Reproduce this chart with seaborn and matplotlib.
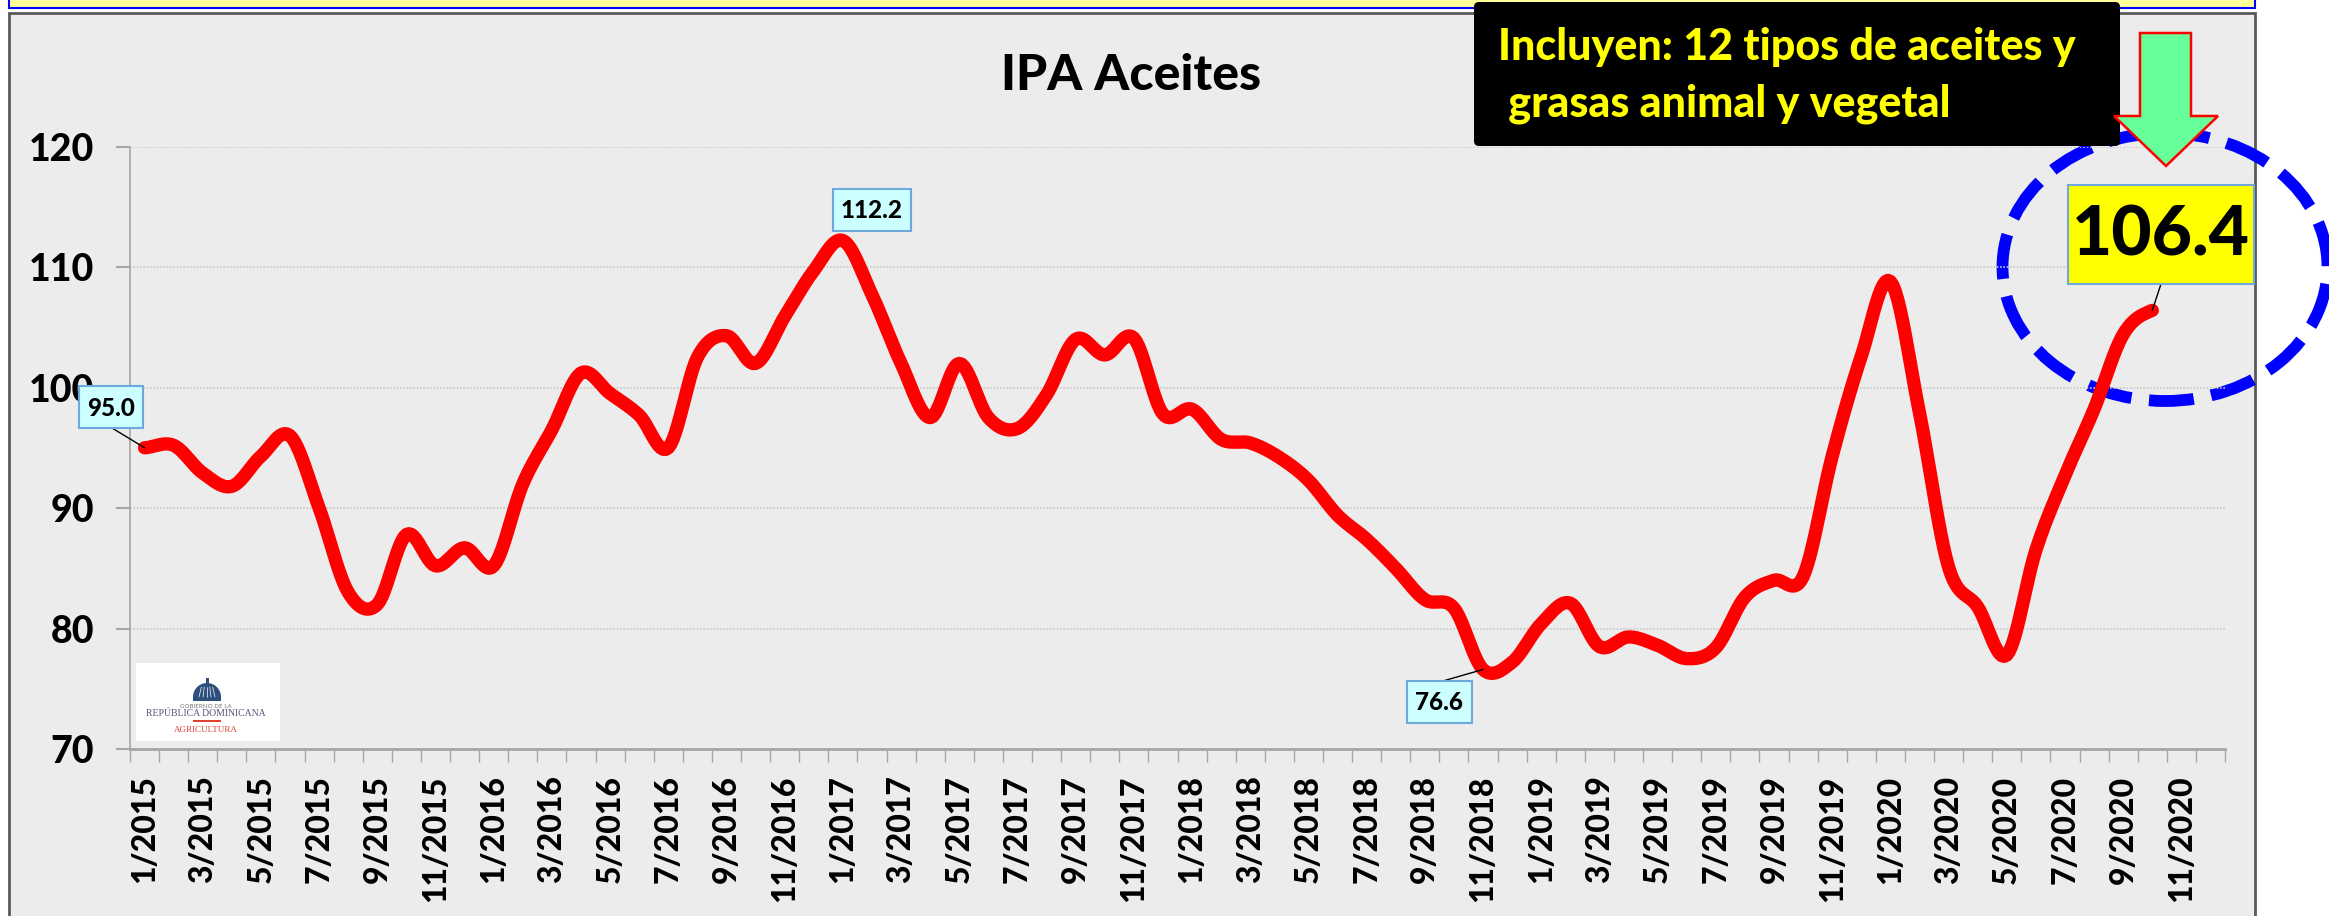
import numpy as np
import pandas as pd
import matplotlib
matplotlib.use("Agg")
import matplotlib.pyplot as plt
from matplotlib.patches import Rectangle, Ellipse, Polygon, FancyBboxPatch, Wedge
import seaborn as sns

W, H = 2329, 916

months = [f"{m}/{y}" for y in range(2015, 2021) for m in range(1, 13)]
ipa_values = [
    95.0, 95.2, 92.9, 91.8, 94.3, 96.0, 90.0, 83.0, 82.0, 87.8, 85.2, 86.7,
    85.2, 92.0, 96.5, 101.2, 99.5, 97.7, 95.0, 102.5, 104.3, 102.0, 105.9, 109.7,
    112.2, 107.7, 102.0, 97.5, 102.0, 97.5, 96.6, 99.4, 104.0, 102.7, 104.1, 97.8,
    98.2, 95.7, 95.4, 94.2, 92.3, 89.4, 87.4, 85.0, 82.4, 81.7, 76.6, 77.2,
    80.4, 82.1, 78.5, 79.3, 78.6, 77.5, 78.4, 82.6, 84.0, 84.3, 94.3, 102.6,
    108.8, 97.9, 85.1, 81.8, 77.8, 86.5, 92.7, 98.2, 104.4, 106.4,
]
y_ticks = [70, 80, 90, 100, 110, 120]
title_text = "IPA Aceites"
note_lines = ["Incluyen: 12 tipos de aceites y", " grasas animal y vegetal"]
logo_lines = ["GOBIERNO DE LA", "REPÚBLICA DOMINICANA", "AGRICULTURA"]

sns.set_theme(style="white")
plt.rcParams["font.family"] = ["Lato", "DejaVu Sans"]


def smooth_line(values, steps=12):
    # same kind of curve as a smoothed office chart line, passes through every value
    v = np.array(values, dtype=float)
    p = np.concatenate([[v[0]], v, [v[-1]]])
    xs, ys = [], []
    for i in range(1, len(p) - 2):
        t = np.linspace(0, 1, steps, endpoint=False)
        ys.append(0.5 * (2 * p[i] + (p[i + 1] - p[i - 1]) * t
                         + (2 * p[i - 1] - 5 * p[i] + 4 * p[i + 1] - p[i + 2]) * t ** 2
                         + (3 * p[i] - p[i - 1] - 3 * p[i + 1] + p[i + 2]) * t ** 3))
        xs.append(i - 1 + t)
    return np.append(np.concatenate(xs), len(v) - 1), np.append(np.concatenate(ys), v[-1])


fig = plt.figure(figsize=(W / 100, H / 100), dpi=100, facecolor="white")


def pixel_axes(zorder):
    a = fig.add_axes([0, 0, 1, 1], zorder=zorder)
    a.set_xlim(0, W)
    a.set_ylim(H, 0)
    a.axis("off")
    return a


back = pixel_axes(0)
back.add_patch(Rectangle((9, -5), 2246, 13, fc="#FFFF99", ec="#0000FF", lw=1.5))
back.add_patch(Rectangle((9, 13), 2246, 910, fc="#ECECEC", ec="#595959", lw=2))
back.add_patch(Ellipse((2165, 267), 325, 268, fc="none", ec="#0000FF", lw=8.5,
                       ls=(0, (3.8, 1.5)), clip_on=False))

# main chart
ax = fig.add_axes([130 / W, 1 - 749 / H, (2225 - 130) / W, (749 - 146.5) / H], zorder=1)
ax.patch.set_alpha(0)
xs, ys = smooth_line(ipa_values)
curve = pd.DataFrame({"x": xs, "ipa": ys})
sns.lineplot(data=curve, x="x", y="ipa", color="#FF0000", lw=9.6, ax=ax, sort=False,
             estimator=None, solid_capstyle="round", solid_joinstyle="round")
ax.set_xlim(-0.5, 71.5)
ax.set_ylim(70, 120)
ax.set_xlabel("")
ax.set_ylabel("")
ax.set_yticks(y_ticks)
ax.set_yticklabels([str(t) for t in y_ticks], fontsize=27, fontweight=900, color="black")
ax.set_xticks(range(0, 72, 2))
ax.set_xticklabels(months[::2], rotation=90, fontsize=23, fontweight=900, color="black")
ax.set_xticks(np.arange(-0.5, 72, 1), minor=True)
ax.grid(axis="y", color="#C9C9C9", ls=(0, (1, 1)), lw=1.2)
ax.set_axisbelow(True)
ax.tick_params(axis="y", left=True, length=10, width=1.5, color="#A6A6A6", pad=16)
ax.tick_params(axis="x", which="major", bottom=False, length=0, pad=19)
ax.tick_params(axis="x", which="minor", bottom=True, length=9, width=1, color="#A6A6A6")
sns.despine(ax=ax, top=True, right=True)
ax.spines["left"].set_color("#A6A6A6")
ax.spines["left"].set_linewidth(1.2)
ax.spines["bottom"].set_color("#A6A6A6")
ax.spines["bottom"].set_linewidth(2)

top = pixel_axes(2)
top.text(1131, 76, title_text, fontsize=36, fontweight=900, ha="center", va="center", color="black")


def value_label(i, box, face, size):
    x0, y0, x1, y1 = box
    top.add_patch(Rectangle((x0, y0), x1 - x0, y1 - y0, fc=face, ec="#6FA8DC", lw=1.5, zorder=3))
    top.text((x0 + x1) / 2, (y0 + y1) / 2 + 1, f"{ipa_values[i]:.1f}", fontsize=size, fontweight=900,
             ha="center", va="center", color="black", zorder=4)


# leader lines run from the label box to the data point
def leader(i, px, py):
    ax.annotate("", xy=(i, ipa_values[i]), xycoords="data", xytext=(px, H - py),
                textcoords="figure pixels",
                arrowprops=dict(arrowstyle="-", color="black", lw=1, shrinkA=0, shrinkB=0))


leader(0, 112, 428)
leader(46, 1443, 681)
leader(69, 2161, 284)
value_label(0, (79, 386, 143, 428), "#CCFFFF", 17.5)
value_label(24, (833, 189, 911, 231), "#CCFFFF", 17.5)
value_label(46, (1407, 681, 1472, 723), "#CCFFFF", 17.5)
value_label(69, (2068, 185, 2254, 284), "#FFFF00", 50)

# note box
top.add_patch(FancyBboxPatch((1477, 5), 640, 138, boxstyle="round,pad=3,rounding_size=5", fc="black", ec="none", zorder=5))
top.text(1498, 60, note_lines[0], fontsize=31, fontweight=900, color="#FFFF00", va="baseline", zorder=6)
top.text(1498, 117, note_lines[1], fontsize=31, fontweight=900, color="#FFFF00", va="baseline", zorder=6)

# arrow
top.add_patch(Polygon([(2140, 33), (2191, 33), (2191, 116), (2218, 116), (2166, 166), (2114, 116), (2140, 116)],
                      closed=True, fc="#66FF99", ec="#FF0000", lw=1.8, zorder=7))

# logo
top.add_patch(Rectangle((136, 663), 144, 78, fc="white", ec="none", zorder=3))
top.add_patch(Wedge((207, 697), 14, 180, 360, fc="#2C4F7C", ec="none", zorder=4))
top.add_patch(Rectangle((193, 697), 28, 4, fc="#2C4F7C", ec="none", zorder=4))
top.add_patch(Rectangle((206, 678), 2.5, 6, fc="#2C4F7C", ec="none", zorder=4))
for dx in [-8, -4, 0, 4, 8]:
    top.plot([207 + dx, 207 + dx * 0.7], [697, 687], color="white", lw=0.5, zorder=4)
top.text(206, 706, logo_lines[0], fontsize=4.5, color="#777777", ha="center", va="center", zorder=4)
top.text(206, 714, logo_lines[1], fontsize=7, color="#555577", ha="center", va="center", family="Liberation Serif", zorder=4)
top.add_patch(Rectangle((193, 720), 28, 1.5, fc="#E04030", ec="none", zorder=4))
top.text(206, 730, logo_lines[2], fontsize=6.5, color="#E04030", ha="center", va="center", family="Liberation Serif", zorder=4)
top.set_xlim(0, W)
top.set_ylim(H, 0)

fig.savefig("out.png", dpi=100)
